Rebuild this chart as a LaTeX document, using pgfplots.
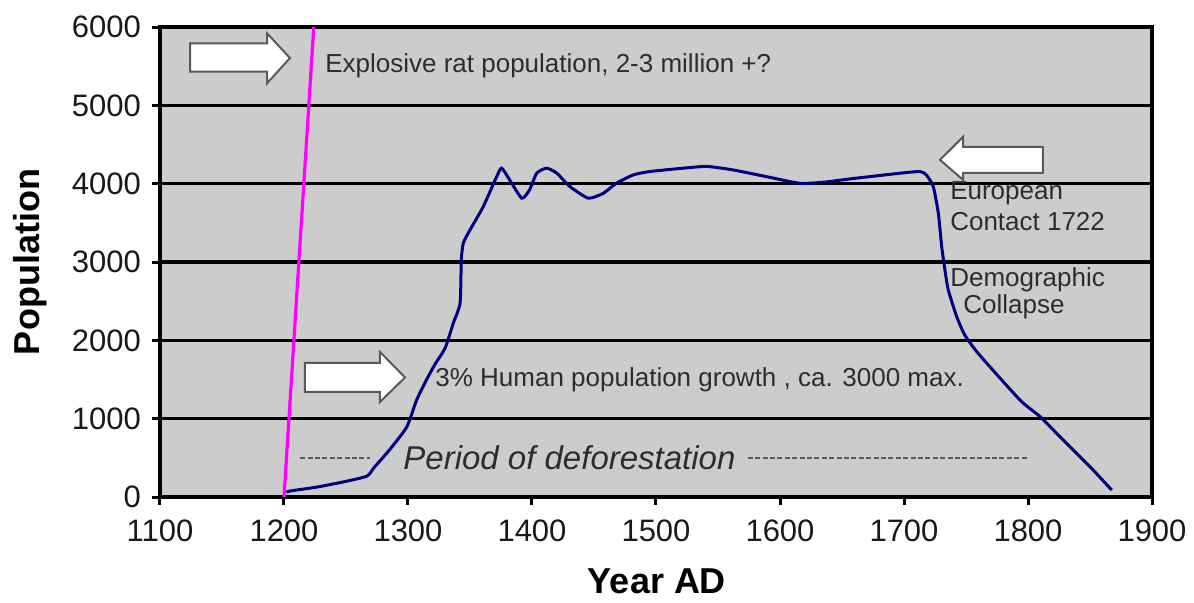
\documentclass[border=0pt]{standalone}
\usepackage{pgfplots}
\pgfplotsset{compat=1.18}
\usepackage{fontspec}
\setmainfont{Liberation Sans}
\definecolor{bg}{RGB}{204,204,204}
\definecolor{navy}{RGB}{0,0,128}
\definecolor{mag}{RGB}{255,0,255}
\definecolor{txt}{RGB}{45,45,45}
\definecolor{arrowline}{RGB}{90,90,90}
\begin{document}
\begin{tikzpicture}
\path[use as bounding box] (-80pt,-52.5pt) rectangle (517pt,248.5pt);
\begin{axis}[
 at={(0,0)}, anchor=south west,
 scale only axis, width=496pt, height=235pt,
 xmin=1100, xmax=1900, ymin=0, ymax=6000,
 xtick={1100,1200,...,1900}, ytick={0,1000,...,6000},
 axis background/.style={fill=bg},
 ymajorgrids, grid style={black, line width=1.8pt},
 axis line style={black, line width=1.8pt},
 tick style={black, line width=1.5pt},
 tick align=outside, tick pos=left,
 major tick length=4pt,
 /pgf/number format/assume math mode=true,
 /pgf/number format/set thousands separator={},
 ticklabel style={font=\fontsize{15.5}{18}\selectfont, text=black!90},
 xticklabel style={yshift=-4pt},
 yticklabel style={xshift=-2pt},
 xlabel={Year AD}, ylabel={Population},
 label style={font=\fontsize{18}{21}\selectfont\bfseries, inner sep=0pt},
 xlabel style={at={(axis description cs:0.501,-0.18)}, anchor=center},
 ylabel style={at={(axis description cs:-0.131,0.5)}, anchor=center},
]
% rat population line
\addplot[mag, line width=1.6pt] coordinates {(1200,0) (1224,6000)};
% human population
\addplot[navy, line width=1.5pt, smooth, tension=0.35] coordinates {
(1202,60) (1205,77) (1227,128) (1250,200) (1267,268) (1273,383) (1285,600)
(1299,894) (1307,1239) (1315,1500) (1322,1700) (1330,1903) (1336.5,2218)
(1342,2474) (1343,3027) (1344.6,3240) (1350,3410) (1360.7,3707) (1371.5,4090)
(1375.5,4198) (1382,4049) (1391.7,3815) (1398,3920) (1403.8,4134) (1411.8,4198)
(1420,4134) (1430.6,3963) (1445.4,3815) (1457.5,3877) (1468,4005) (1481.7,4112)
(1495,4155) (1522,4198) (1541,4220) (1562,4176) (1589,4090) (1616,4005)
(1636,4020) (1656,4060) (1697,4134) (1713,4155) (1718,4112) (1723.6,3963)
(1727.7,3623) (1730.4,3197) (1733,2899) (1735.7,2644) (1742.5,2303) (1749,2069)
(1760,1830) (1793.5,1239) (1809.7,1026) (1831,686) (1850,387) (1867.5,89)
};
% dashed deforestation lines
\draw[arrowline, line width=1pt, dash pattern=on 2.5pt off 1.2pt] (axis cs:1213,498) -- (axis cs:1269,498);
\draw[arrowline, line width=1pt, dash pattern=on 2.5pt off 1.2pt] (axis cs:1574,498) -- (axis cs:1799,498);
% block arrows
\draw[arrowline, fill=white, line width=1pt] (axis cs:1124.2,5430) -- (axis cs:1186.3,5430) -- (axis cs:1186.3,5281) -- (axis cs:1204.8,5604) -- (axis cs:1186.3,5920) -- (axis cs:1186.3,5792) -- (axis cs:1124.2,5792) -- cycle;
\draw[arrowline, fill=white, line width=1pt] (axis cs:1216.9,1341) -- (axis cs:1277.4,1341) -- (axis cs:1277.4,1213) -- (axis cs:1297.6,1526) -- (axis cs:1277.4,1852) -- (axis cs:1277.4,1711) -- (axis cs:1216.9,1711) -- cycle;
\draw[arrowline, fill=white, line width=1pt] (axis cs:1812,4138) -- (axis cs:1747.6,4138) -- (axis cs:1747.6,4049) -- (axis cs:1729,4304) -- (axis cs:1747.6,4598) -- (axis cs:1747.6,4470) -- (axis cs:1812,4470) -- cycle;
% texts
\node[anchor=west, inner sep=0pt, text=txt, font=\fontsize{13}{15}\selectfont] at (axis cs:1233,5504) {Explosive rat population, 2-3 million +?};
\node[anchor=west, inner sep=0pt, text=txt, font=\fontsize{13}{15}\selectfont] at (axis cs:1321.8,1494) {3\% Human population growth , ca. 3000 max.};
\node[anchor=west, inner sep=0pt, text=txt, font=\fontsize{13}{15}\selectfont] at (axis cs:1737,3881) {European};
\node[anchor=west, inner sep=0pt, text=txt, font=\fontsize{13}{15}\selectfont] at (axis cs:1737,3511) {Contact 1722};
\node[anchor=west, inner sep=0pt, text=txt, font=\fontsize{13}{15}\selectfont] at (axis cs:1737,2770) {Demographic};
\node[anchor=west, inner sep=0pt, text=txt, font=\fontsize{13}{15}\selectfont] at (axis cs:1747.6,2426) {Collapse};
\node[anchor=west, inner sep=0pt, text=txt, font=\fontsize{16.5}{19}\selectfont\itshape] at (axis cs:1296,498) {Period of deforestation};
\end{axis}
\end{tikzpicture}
\end{document}
